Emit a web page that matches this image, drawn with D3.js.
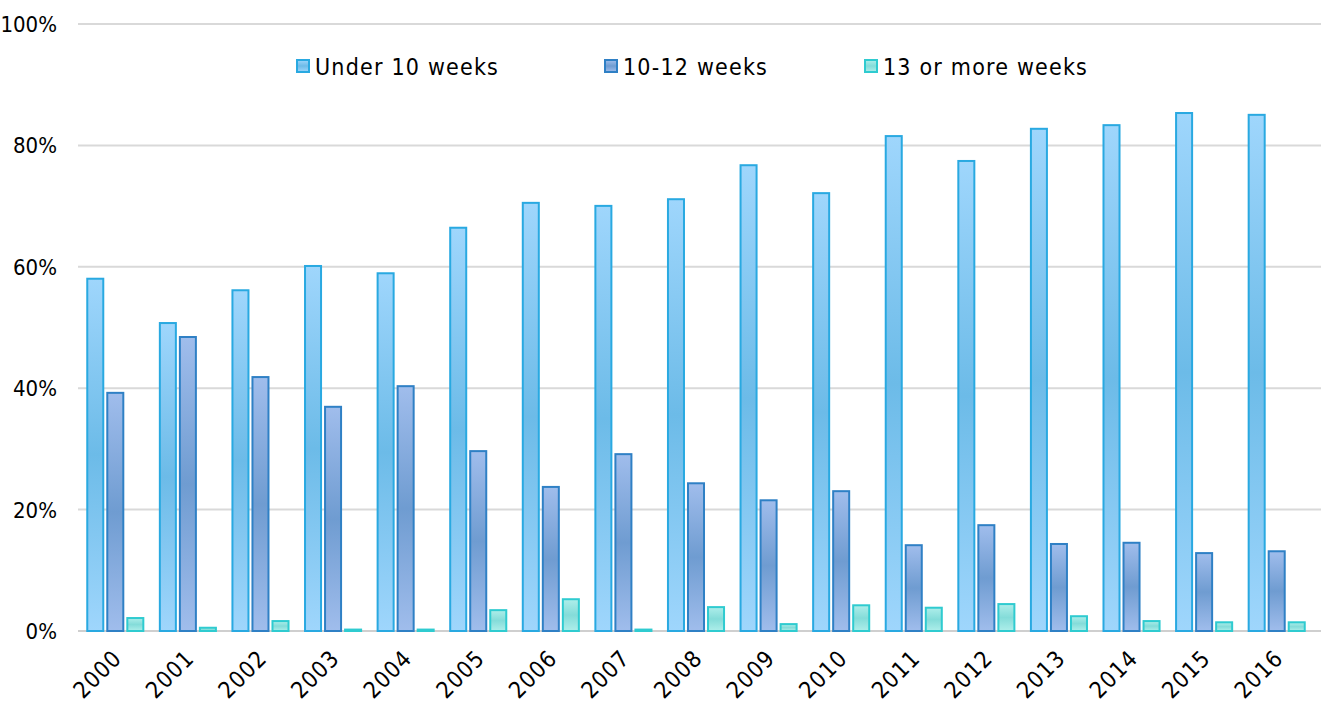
<!DOCTYPE html>
<html>
<head>
<meta charset="utf-8">
<style>
body { margin: 0; background: #fff; }
text { font-family: "DejaVu Sans Condensed", "DejaVu Sans", sans-serif; fill: #000; }
</style>
</head>
<body>
<script src="https://cdn.jsdelivr.net/npm/d3@7"></script>
<script>

var years = ["2000","2001","2002","2003","2004","2005","2006","2007","2008","2009","2010","2011","2012","2013","2014","2015","2016"];
var seriesNames = ["Under 10 weeks", "10-12 weeks", "13 or more weeks"];
var under10 = [58.2, 50.9, 56.3, 60.3, 59.1, 66.6, 70.7, 70.2, 71.3, 76.9, 72.3, 81.7, 77.6, 82.9, 83.5, 85.5, 85.2];
var w10to12 = [39.4, 48.6, 42.0, 37.1, 40.5, 29.8, 23.9, 29.3, 24.5, 21.7, 23.2, 14.3, 17.6, 14.5, 14.7, 13.0, 13.3];
var w13plus = [2.3, 0.7, 1.8, 0.4, 0.4, 3.6, 5.4, 0.4, 4.1, 1.3, 4.4, 4.0, 4.6, 2.6, 1.8, 1.6, 1.6];
var yTicks = [0, 20, 40, 60, 80, 100];

var colors = [
  {light: "#9fd6fc", mid: "#6cbbe8", stroke: "#29a9e1"},
  {light: "#a0bdec", mid: "#6f9cd1", stroke: "#2f80c5"},
  {light: "#aeeeea", mid: "#84dcd9", stroke: "#2fcbd0"}
];

var width = 1331, height = 702;

var svg = d3.select("body").append("svg")
    .attr("width", width)
    .attr("height", height);

var defs = svg.append("defs");
colors.forEach(function(c, i) {
  var g = defs.append("linearGradient")
      .attr("id", "grad" + i)
      .attr("x1", 0).attr("y1", 0).attr("x2", 0).attr("y2", 1);
  g.append("stop").attr("offset", "0%").attr("stop-color", c.light);
  g.append("stop").attr("offset", "50%").attr("stop-color", c.mid);
  g.append("stop").attr("offset", "100%").attr("stop-color", c.light);
});

var x = d3.scaleBand()
    .domain(years)
    .range([79, 1313])
    .paddingInner(0.2)
    .paddingOuter(0.1);

var xs = d3.scaleBand()
    .domain([0, 1, 2])
    .range([0, x.bandwidth()])
    .paddingInner(0.1);

var y = d3.scaleLinear()
    .domain([0, 100])
    .range([631, 24]);

// gridlines
svg.append("g")
  .selectAll("line")
  .data(yTicks)
  .enter().append("line")
    .attr("x1", 78)
    .attr("x2", 1321)
    .attr("y1", function(d) { return y(d); })
    .attr("y2", function(d) { return y(d); })
    .style("stroke", function(d) { return d === 0 ? "#cfcfcf" : "#d9d9d9"; })
    .style("stroke-width", 2);

// y labels
svg.append("g")
  .selectAll("text")
  .data(yTicks)
  .enter().append("text")
    .attr("x", 57)
    .attr("y", function(d) { return y(d); })
    .attr("dy", "0.36em")
    .attr("text-anchor", "end")
    .style("font-size", "22px")
    .text(function(d) { return d + "%"; });

var series = [under10, w10to12, w13plus];

var groups = svg.append("g")
  .selectAll("g")
  .data(years)
  .enter().append("g")
    .attr("transform", function(d) { return "translate(" + x(d) + ",0)"; });

groups.selectAll("rect")
  .data(function(d, i) { return series.map(function(s, k) { return {k: k, v: s[i]}; }); })
  .enter().append("rect")
    .attr("x", function(d) { return xs(d.k) + 1; })
    .attr("y", function(d) { return y(d.v) + 1; })
    .attr("width", xs.bandwidth() - 2)
    .attr("height", function(d) { return Math.max(0, y(0) - y(d.v) - 1); })
    .style("fill", function(d) { return "url(#grad" + d.k + ")"; })
    .style("stroke", function(d) { return colors[d.k].stroke; })
    .style("stroke-width", 2);

// x labels
svg.append("g")
  .selectAll("text")
  .data(years)
  .enter().append("text")
    .attr("transform", function(d) {
      return "translate(" + (x(d) + x.bandwidth() / 2 - 4) + ",648) rotate(-45)";
    })
    .attr("text-anchor", "end")
    .attr("dy", "0.72em")
    .style("font-size", "23px")
    .style("letter-spacing", "1px")
    .text(function(d) { return d; });

// legend
var legendX = [296, 604, 864];
var legend = svg.append("g")
  .selectAll("g")
  .data(seriesNames)
  .enter().append("g")
    .attr("transform", function(d, i) { return "translate(" + legendX[i] + ",59)"; });

legend.append("rect")
    .attr("x", 1).attr("y", 1)
    .attr("width", 12).attr("height", 12)
    .style("fill", function(d, i) { return "url(#grad" + i + ")"; })
    .style("stroke", function(d, i) { return colors[i].stroke; })
    .style("stroke-width", 2);

legend.append("text")
    .attr("x", 19)
    .attr("y", 16)
    .style("font-size", "23px")
    .style("letter-spacing", "1.2px")
    .text(function(d) { return d; });

</script>
</body>
</html>
